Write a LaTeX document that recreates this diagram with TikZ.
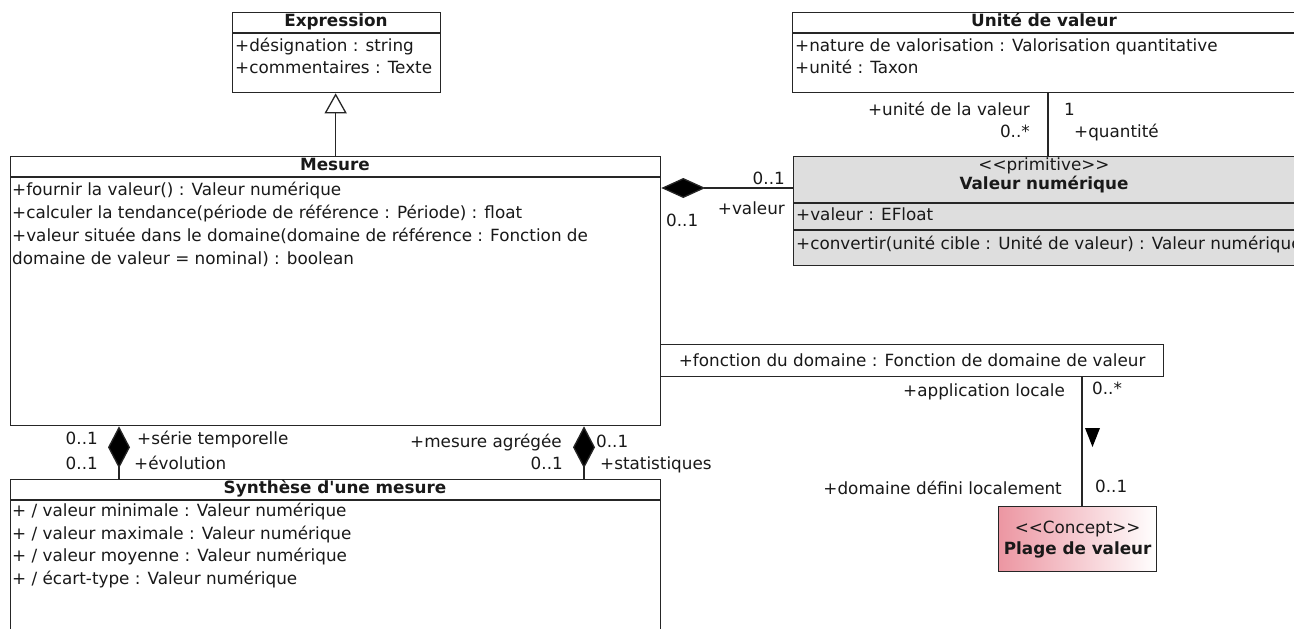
\documentclass[tikz,border=0pt]{standalone}
\usepackage{fontspec}
\newfontfamily\umlfont{DejaVu Sans}
\usetikzlibrary{arrows.meta}
\definecolor{primfill}{RGB}{222,222,222}
\definecolor{conceptpink}{RGB}{236,150,162}

\begin{document}
\begin{tikzpicture}[x=1pt, y=-1pt,
    every node/.style={inner sep=0pt, text=black!90,
      font=\umlfont\fontsize{16.8}{21}\selectfont},
    cls/.style={draw=black!85, line width=1.3pt, anchor=north west},
    ttl/.style={font=\umlfont\bfseries\fontsize{16.8}{21}\selectfont,
      text height=11.5pt, text depth=3.5pt},
    att/.style={anchor=west, text height=11.5pt, text depth=3.5pt},
    lbl/.style={text height=11.5pt, text depth=3.5pt},
    lnk/.style={draw=black!85, line width=1.3pt}]
  \path[fill=white, use as bounding box] (0,0) rectangle (1294,629);

  \node[cls, minimum width=208pt, minimum height=80pt] (expr) at (232,12) {};
  \node[ttl] (exprt) at (336,22) {Expression};
  \node[att] (expra) at (235,47) {+désignation : string};
  \node[att] (exprb) at (235,69) {+commentaires : Texte};
  \draw[lnk] ([yshift=-21pt]expr.north west) -- ([yshift=-21pt]expr.north east);

  \node[cls, minimum width=504pt, minimum height=80pt] (unite) at (792,12) {};
  \node[ttl] (unitet) at (1044,22) {Unité de valeur};
  \node[att] (unitea) at (795,47) {+nature de valorisation : Valorisation quantitative};
  \node[att] (uniteb) at (795,69) {+unité : Taxon};
  \draw[lnk] ([yshift=-21pt]unite.north west) -- ([yshift=-21pt]unite.north east);

  \node[cls, fill=primfill, minimum width=503pt, minimum height=109pt] (valeur) at (793,156) {};
  \node[lbl] (valeurs) at (1044,166) {<\kern0pt<primitive>\kern0pt>};
  \node[ttl] (valeurt) at (1044,185) {Valeur numérique};
  \node[att] (valeura) at (796,216) {+valeur : EFloat};
  \node[att] (valeurb) at (796,245) {+convertir(unité cible : Unité de valeur) : Valeur numérique};
  \draw[lnk] ([yshift=-47pt]valeur.north west) -- ([yshift=-47pt]valeur.north east);
  \draw[lnk] ([yshift=-74pt]valeur.north west) -- ([yshift=-74pt]valeur.north east);

  \node[cls, minimum width=650pt, minimum height=269pt] (mesure) at (10,156) {};
  \node[ttl] (mesuret) at (335,166) {Mesure};
  \node[att] (mesurea) at (12,191) {+fournir la valeur() : Valeur numérique};
  \node[att] (mesureb) at (12,214) {+calculer la tendance(période de référence : Période) : float};
  \node[att] (mesurec) at (12,237) {+valeur située dans le domaine(domaine de référence : Fonction de};
  \node[att] (mesured) at (12,260) {domaine de valeur = nominal) : boolean};
  \draw[lnk] ([yshift=-21pt]mesure.north west) -- ([yshift=-21pt]mesure.north east);

  \node[cls, minimum width=503pt, minimum height=32pt] (fdom) at (660,344)
    {+fonction du domaine : Fonction de domaine de valeur};

  \node[cls, left color=conceptpink, right color=white, minimum width=158pt,
    minimum height=65pt, align=center] (plage) at (998,506)
    {<\kern0pt<Concept>\kern0pt>\\\textbf{Plage de valeur}};

  \node[cls, minimum width=650pt, minimum height=170pt] (synth) at (10,479) {};
  \node[ttl] (syntht) at (335,489) {Synthèse d'une mesure};
  \node[att] (syntha) at (12,512) {+ / valeur minimale : Valeur numérique};
  \node[att] (synthb) at (12,535) {+ / valeur maximale : Valeur numérique};
  \node[att] (synthc) at (12,557) {+ / valeur moyenne : Valeur numérique};
  \node[att] (synthd) at (12,580) {+ / écart-type : Valeur numérique};
  \draw[lnk] ([yshift=-21pt]synth.north west) -- ([yshift=-21pt]synth.north east);

  \coordinate (uv) at (1048,0);
  \coordinate (mv) at (0,188);
  \coordinate (pv) at (1082,0);
  \coordinate (st) at (119,0);
  \coordinate (ag) at (584,0);

  \draw[lnk, -{Triangle[open, length=20pt, width=22pt]}] (mesure.north) -- (mesure.north |- expr.south);
  \draw[lnk] (unite.south -| uv) -- (valeur.north -| uv);
  \draw[lnk, {Diamond[length=44pt, width=20pt, fill=black]}-] (mesure.east |- mv) -- (valeur.west |- mv);
  \draw[lnk] (fdom.south -| pv) -- (plage.north -| pv);
  \draw[lnk, {Diamond[length=42pt, width=22pt, fill=black]}-] (mesure.south -| st) -- (synth.north -| st);
  \draw[lnk, {Diamond[length=42pt, width=22pt, fill=black]}-] (mesure.south -| ag) -- (synth.north -| ag);
  \fill[black] (1085,428) -- (1100,428) -- (1092.5,447) -- cycle;

  \node[lbl, anchor=east] (uvrole) at (1030,111) {+unité de la valeur};
  \node[lbl, anchor=east] (uvmult) at (1030,133) {0..*};
  \node[lbl, anchor=west] (qmult) at (1064,111) {1};
  \node[lbl, anchor=west] (qrole) at (1074,133) {+quantité};

  \node[lbl, anchor=east] (vmult) at (785,180) {0..1};
  \node[lbl, anchor=east] (vrole) at (785,210) {+valeur};
  \node[lbl, anchor=west] (mmult) at (666,222) {0..1};

  \node[lbl, anchor=east] (alrole) at (1065,392) {+application locale};
  \node[lbl, anchor=west] (almult) at (1092,390) {0..*};
  \node[lbl, anchor=east] (ddrole) at (1062,490) {+domaine défini localement};
  \node[lbl, anchor=west] (ddmult) at (1095,488) {0..1};

  \node[lbl, anchor=east] (stmult) at (98,440) {0..1};
  \node[lbl, anchor=west] (strole) at (137,440) {+série temporelle};
  \node[lbl, anchor=east] (evmult) at (98,465) {0..1};
  \node[lbl, anchor=west] (evrole) at (134,465) {+évolution};
  \node[lbl, anchor=east] (agrole) at (562,443) {+mesure agrégée};
  \node[lbl, anchor=west] (agmult) at (596,443) {0..1};
  \node[lbl, anchor=east] (stamult) at (563,465) {0..1};
  \node[lbl, anchor=west] (starole) at (600,465) {+statistiques};
\end{tikzpicture}
\end{document}
